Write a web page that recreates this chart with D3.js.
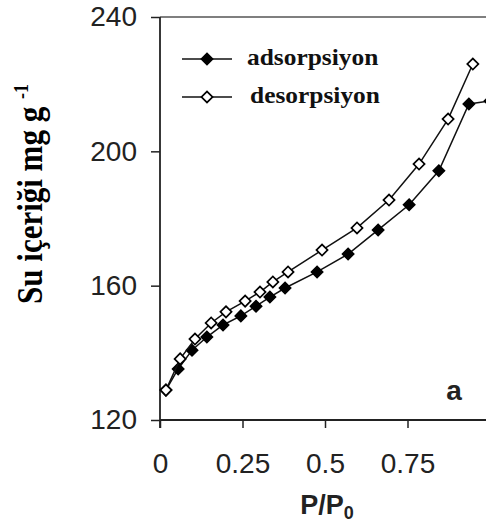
<!DOCTYPE html>
<html>
<head>
<meta charset="utf-8">
<script src="https://cdn.jsdelivr.net/npm/d3@7"></script>
<style>
  html, body { margin: 0; padding: 0; background: #fff; }
  svg { display: block; }
</style>
</head>
<body>
<svg id="chart" width="486" height="525"></svg>
<script>
// Water sorption isotherm: adsorption / desorption branches
const adsX = [0.018, 0.055, 0.097, 0.142, 0.191, 0.245, 0.291, 0.333, 0.379, 0.476, 0.570, 0.661, 0.755, 0.845, 0.936, 1.0];
const adsY = [128.9, 135.2, 140.8, 144.7, 148.3, 151.0, 153.9, 156.6, 159.3, 164.1, 169.4, 176.6, 184.1, 194.2, 214.1, 215.0];
const desX = [0.018, 0.061, 0.106, 0.155, 0.200, 0.258, 0.303, 0.342, 0.388, 0.491, 0.597, 0.694, 0.785, 0.873, 0.948];
const desY = [128.9, 138.2, 144.1, 148.9, 152.2, 155.4, 158.1, 161.1, 164.1, 170.6, 177.2, 185.5, 196.2, 209.6, 226.0];

const xTicks = [0, 0.25, 0.5, 0.75];
const xTickLabels = ["0", "0.25", "0.5", "0.75"];
const yTicks = [120, 160, 200, 240];
const seriesNames = ["adsorpsiyon", "desorpsiyon"];

const svg = d3.select("#chart");
const W = 486, H = 525;

const x = d3.scaleLinear().domain([0, 1]).range([160, 490]);
const y = d3.scaleLinear().domain([120, 240]).range([420, 17]);

const ink = "#222";
const sans = "'Liberation Sans', Arial, sans-serif";
const serif = "'Liberation Serif', 'Times New Roman', serif";

// Plot clip for the right side (the frame runs off the page)
svg.append("defs").append("clipPath").attr("id", "plotclip")
  .append("rect").attr("x", 150).attr("y", 0).attr("width", W - 150).attr("height", 430);

// Top border
svg.append("line")
  .attr("x1", x(0)).attr("x2", W).attr("y1", y(240)).attr("y2", y(240))
  .attr("stroke", "#555").attr("stroke-width", 1.5);

// X axis
const xAxis = d3.axisBottom(x).tickValues(xTicks)
  .tickFormat((d, i) => xTickLabels[i]).tickSize(8).tickPadding(25).tickSizeOuter(0);
const gx = svg.append("g").attr("transform", `translate(0,${y(120)})`).call(xAxis);
gx.select(".domain").attr("d", `M${x(0)},0H${W}`).attr("stroke", ink).attr("stroke-width", 1.8);
gx.selectAll(".tick line").attr("stroke", ink).attr("stroke-width", 1.5);
gx.selectAll(".tick text").attr("fill", ink)
  .style("font-family", sans).style("font-size", "28px");

// Y axis
const yAxis = d3.axisLeft(y).tickValues(yTicks).tickSize(9).tickPadding(14).tickSizeOuter(0);
const gy = svg.append("g").attr("transform", `translate(${x(0)},0)`).call(yAxis);
gy.select(".domain").attr("d", `M0,${y(240)}V${y(120) + 8}`).attr("stroke", ink).attr("stroke-width", 1.8);
gy.selectAll(".tick line").attr("stroke", ink).attr("stroke-width", 1.5);
gy.selectAll(".tick text").attr("fill", ink)
  .style("font-family", sans).style("font-size", "28px");

// Axis titles
const xt = svg.append("text")
  .attr("x", 327).attr("y", 514).attr("text-anchor", "middle")
  .style("font-family", sans)
  .style("font-weight", "bold").style("font-size", "27px").attr("fill", ink);
xt.append("tspan").text("P/P");
xt.append("tspan").attr("dy", 5).style("font-size", "18px").text("0");

const yt = svg.append("text")
  .attr("transform", "translate(42,194) rotate(-90) scale(1,1.17)")
  .attr("text-anchor", "middle")
  .style("font-family", serif)
  .style("font-weight", "bold").style("font-size", "31px").attr("fill", "#000");
yt.append("tspan").text("Su içeriği mg g ");
yt.append("tspan").attr("dy", -12).style("font-size", "18px").text("-1");

// Series
const ads = adsX.map((v, i) => [v, adsY[i]]);
const des = desX.map((v, i) => [v, desY[i]]);
const line = d3.line().x(d => x(d[0])).y(d => y(d[1]));
const diamond = d3.symbol().type(d3.symbolSquare).size(62);

const plot = svg.append("g").attr("clip-path", "url(#plotclip)");

function drawSeries(data, fill) {
  plot.append("path").datum(data).attr("d", line)
    .attr("fill", "none").attr("stroke", "#111").attr("stroke-width", 1.5);
  plot.append("g").selectAll("path").data(data).join("path")
    .attr("d", diamond)
    .attr("transform", d => `translate(${x(d[0])},${y(d[1])}) rotate(45)`)
    .attr("fill", fill).attr("stroke", "#000").attr("stroke-width", 1.7);
}
drawSeries(ads, "#000");
drawSeries(des, "#fff");

// Legend
const legend = svg.append("g");
const legendRows = [
  { name: seriesNames[0], fill: "#000", y: 59, tx: 247 },
  { name: seriesNames[1], fill: "#fff", y: 97, tx: 250 }
];
legendRows.forEach(r => {
  legend.append("line").attr("x1", 182).attr("x2", 232).attr("y1", r.y).attr("y2", r.y)
    .attr("stroke", "#111").attr("stroke-width", 1.7);
  legend.append("path").attr("d", diamond)
    .attr("transform", `translate(207,${r.y}) rotate(45)`)
    .attr("fill", r.fill).attr("stroke", "#000").attr("stroke-width", 1.7);
  legend.append("text")
    .attr("transform", `translate(${r.tx},${r.y + 6}) scale(1.13,1)`)
    .style("font-family", serif)
    .style("font-weight", "bold").style("font-size", "22.5px").attr("fill", "#111")
    .text(r.name);
});

// Panel letter
svg.append("text").attr("x", 454).attr("y", 400).attr("text-anchor", "middle")
  .style("font-family", sans)
  .style("font-weight", "bold").style("font-size", "28px").attr("fill", ink)
  .text("a");
</script>
</body>
</html>
